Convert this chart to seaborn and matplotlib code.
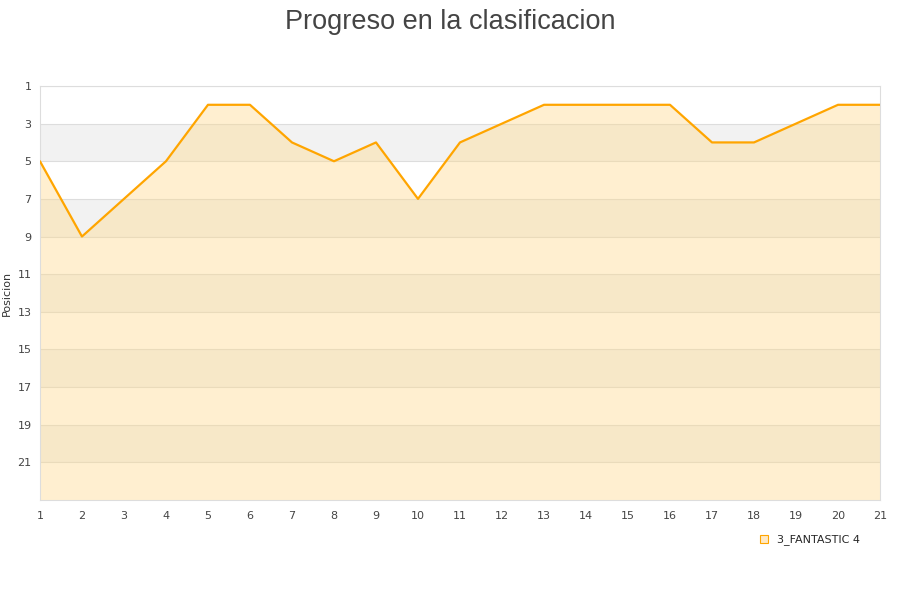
import numpy as np
import pandas as pd
import matplotlib
matplotlib.use("Agg")
import matplotlib.pyplot as plt
from matplotlib.patches import Patch
import seaborn as sns

jornadas = list(range(1, 22))
posicion = [5, 9, 7, 5, 2, 2, 4, 5, 4, 7, 4, 3, 2, 2, 2, 2, 4, 4, 3, 2, 2]
equipo = "3_FANTASTIC 4"
y_ticks = list(range(1, 23, 2))

df = pd.DataFrame({"Jornada": jornadas, "Posicion": posicion})

sns.set_style("white")
plt.rcParams['font.family'] = ['DejaVu Sans']

fig = plt.figure(figsize=(9, 6), dpi=100)
ax = fig.add_axes([0.0444, 0.1667, 0.9334, 0.69])

# alternating bands
for lo in range(3, 23, 4):
    ax.axhspan(lo, lo + 2, color="#f2f2f2", zorder=0, lw=0)
for t in y_ticks:
    ax.axhline(t, color="#dddddd", lw=0.8, zorder=1)

ax.fill_between(df["Jornada"], df["Posicion"], 23, color="#ffd98a", alpha=0.4, lw=0, zorder=2)
sns.lineplot(data=df, x="Jornada", y="Posicion", color="#ffa500", lw=1.6, ax=ax, zorder=3)

ax.set_xlim(1, 21)
ax.set_ylim(23, 1)
ax.set_xticks(jornadas)
ax.set_yticks(y_ticks)
ax.tick_params(axis="x", labelsize=8, colors="#444444", length=0, pad=8)
ax.tick_params(axis="y", labelsize=8, colors="#444444", length=0, pad=6)
ax.set_xlabel("")
ax.set_ylabel("Posicion", fontsize=8, color="#333333")
ax.yaxis.set_label_coords(-0.033, 0.5)
for s in ax.spines.values():
    s.set_color("#dddddd")

fig.suptitle("Progreso en la clasificacion", fontsize=19.5, color="#444444", y=0.985,
             family=["Liberation Sans", "DejaVu Sans"])

handles = [Patch(facecolor="#ffe9c4", edgecolor="#ffa500", lw=0.8)]
fig.legend(handles, [equipo], loc="center", bbox_to_anchor=(0.9, 0.1), frameon=False,
           fontsize=8, handlelength=0.7, handleheight=0.7, handletextpad=0.8)

fig.savefig("out.png", dpi=100)
